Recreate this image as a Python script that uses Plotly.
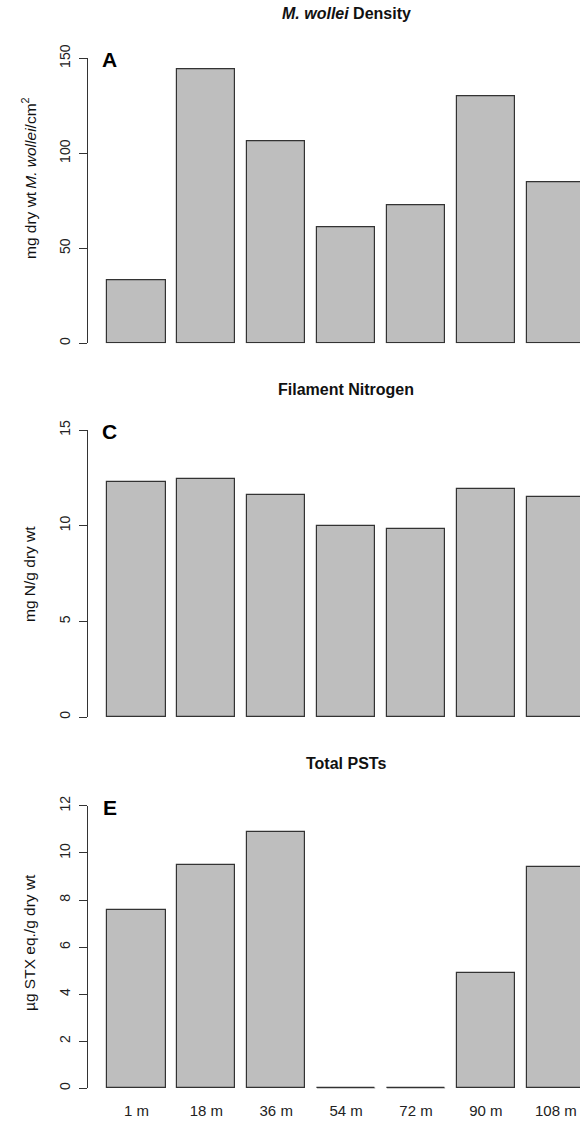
import plotly.graph_objects as go

# Sampling distance downstream
sites = ["1 m", "18 m", "36 m", "54 m", "72 m", "90 m", "108 m"]

# Panel A: M. wollei density (mg dry wt / cm^2)
density = [33, 144, 106.5, 61.2, 72.8, 129.8, 84.5]
# Panel C: filament nitrogen (mg N / g dry wt)
nitrogen = [12.3, 12.44, 11.6, 10.0, 9.8, 11.9, 11.5]
# Panel E: total PSTs (ug STX eq. / g dry wt)
psts = [7.6, 9.5, 10.9, 0, 0, 4.9, 9.4]

y_ticks_a = [0, 50, 100, 150]
y_ticks_c = [0, 5, 10, 15]
y_ticks_e = [0, 2, 4, 6, 8, 10, 12]

W, H = 580, 1121
FONT = "Arial, Liberation Sans, sans-serif"
BAR_FILL = "#bebebe"
EDGE = "#333333"
BAR_W = 1 / 1.2
pos = list(range(len(sites)))

panels = [
    dict(vals=density, ticks=y_ticks_a, ymax=150, top=58.3, bot=343.3,
         title="<b><i>M. wollei</i> Density</b>", letter="A",
         ylab="mg dry wt\u2009<i>M. wollei</i>/cm<sup>2</sup>", ylab_y=178, title_y=14),
    dict(vals=nitrogen, ticks=y_ticks_c, ymax=15, top=430, bot=717,
         title="<b>Filament Nitrogen</b>", letter="C",
         ylab="mg N/g dry wt", ylab_y=574, title_y=390),
    dict(vals=psts, ticks=y_ticks_e, ymax=12, top=805.9, bot=1088.3,
         title="<b>Total PSTs</b>", letter="E",
         ylab="µg STX eq./g dry wt", ylab_y=943, title_y=763),
]

fig = go.Figure()
annotations = []
x_left_px = 88
x_unit_px = 69.9
center0_px = 136.4
x_range = [-(center0_px - x_left_px) / x_unit_px, (W - center0_px) / x_unit_px]

for k, p in enumerate(panels):
    n = k + 1
    xa = "x" if n == 1 else f"x{n}"
    ya = "y" if n == 1 else f"y{n}"
    fig.add_trace(go.Bar(
        x=pos, y=p["vals"], width=BAR_W, xaxis=xa, yaxis=ya,
        marker=dict(color=BAR_FILL, line=dict(color=EDGE, width=1.2)),
        cliponaxis=False, showlegend=False, hoverinfo="x+y",
    ))
    # zero-valued bars collapse to a flat outline along the baseline
    zx, zy = [], []
    for i, v in zip(pos, p["vals"]):
        if v == 0:
            zx += [i - BAR_W / 2, i + BAR_W / 2, None]
            zy += [v, v, None]
    if zx:
        fig.add_trace(go.Scatter(
            x=zx, y=zy, mode="lines", xaxis=xa, yaxis=ya,
            line=dict(color=EDGE, width=1.3), cliponaxis=False,
            showlegend=False, hoverinfo="skip",
        ))

    dom = [1 - p["bot"] / H, 1 - p["top"] / H]
    fig.update_layout({
        f"xaxis{'' if n == 1 else n}": dict(
            domain=[x_left_px / W, 1], range=x_range, anchor=ya,
            showgrid=False, zeroline=False, showline=False, ticks="",
            tickvals=pos, ticktext=sites, showticklabels=(n == 3),
            tickfont=dict(family=FONT, size=15, color="#222"),
            ticklabelstandoff=12, automargin=False,
        ),
        f"yaxis{'' if n == 1 else n}": dict(
            domain=dom, range=[0, p["ymax"]], anchor=xa,
            showgrid=False, zeroline=False, showline=True,
            linecolor=EDGE, linewidth=1.2,
            ticks="outside", ticklen=8, tickwidth=1.2, tickcolor=EDGE,
            tickvals=p["ticks"], tickangle=-90,
            tickfont=dict(family=FONT, size=14, color="#222"),
            ticklabelstandoff=3, automargin=False,
        ),
    })

    annotations.append(dict(
        text=p["title"], x=346 / W, y=1 - p["title_y"] / H, xref="paper", yref="paper",
        xanchor="center", yanchor="middle", showarrow=False,
        font=dict(family=FONT, size=16, color="#111"),
    ))
    annotations.append(dict(
        text=f"<b>{p['letter']}</b>", x=109.5 / W, y=1 - (p["top"] + 1.5) / H,
        xref="paper", yref="paper", xanchor="center", yanchor="middle",
        showarrow=False, font=dict(family=FONT, size=21, color="#000"),
    ))
    annotations.append(dict(
        text=p["ylab"], x=29 / W, y=1 - p["ylab_y"] / H, xref="paper", yref="paper",
        xanchor="center", yanchor="middle", textangle=-90, showarrow=False,
        font=dict(family=FONT, size=15.5, color="#111"),
    ))

fig.update_layout(
    width=W, height=H,
    margin=dict(l=0, r=0, t=0, b=0, autoexpand=False),
    paper_bgcolor="white", plot_bgcolor="white",
    annotations=annotations,
    bargap=0,
)

fig.write_html("out.html")
